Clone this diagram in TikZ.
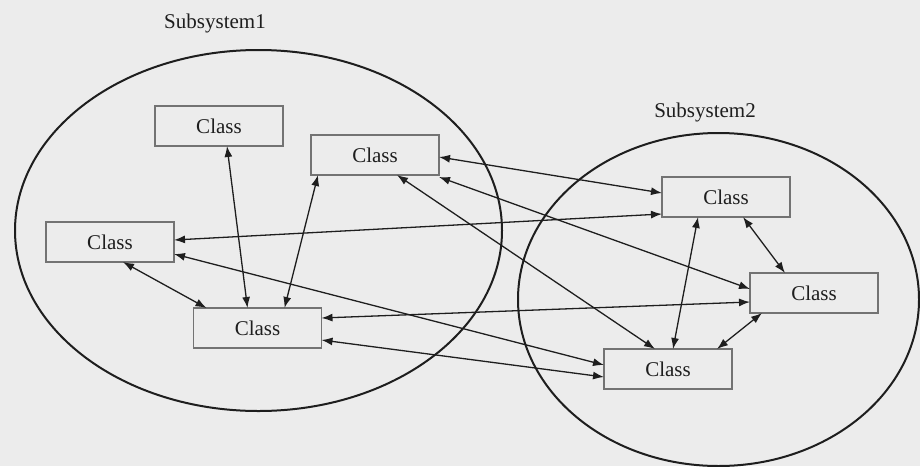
\documentclass[tikz,border=0pt]{standalone}
\usepackage{fontspec}
\setmainfont{Liberation Serif}
\usepackage{tikz}
\usetikzlibrary{calc}
\usetikzlibrary{arrows.meta}
\definecolor{pagebg}{RGB}{236,236,236}
\definecolor{inkdark}{RGB}{30,30,30}
\definecolor{boxline}{RGB}{115,115,115}
\tikzset{
    classbox/.style={draw=boxline,line width=1.1pt,fill=pagebg,minimum width=128pt,minimum height=40pt,inner sep=0pt,outer sep=0pt,text=inkdark,font=\fontsize{21}{24}\selectfont},
    subsys/.style={draw=inkdark,line width=2pt},
    conn/.style={draw=inkdark,line width=1.3pt,{Latex[length=11pt,width=8pt]}-{Latex[length=11pt,width=8pt]}}
}

\begin{document}
\begin{tikzpicture}[x=1pt,y=-1pt]
\useasboundingbox[fill=pagebg] (0,0) rectangle (920,466);
% the two subsystems
\draw[subsys] (258.5,230.5) ellipse [x radius=243.5pt, y radius=180.5pt];
\draw[subsys] (718.5,299.5) ellipse [x radius=200.5pt, y radius=166.5pt];
\node[text=inkdark,font=\fontsize{21}{24}\selectfont] (subone) at (215,23) {Subsystem1};
\node[text=inkdark,font=\fontsize{21}{24}\selectfont] (subtwo) at (705,112) {Subsystem2};
% classes
\foreach \x/\y/\p in {219/126/ca, 375/155/cb, 110/242/cc, 257.5/328/cd, 726/197/ce, 814/293/cf, 668/369/cg}{
    \node[classbox] (\p) at (\x,\y) {Class};
}
% associations
\foreach \a/\da/\b/\db in {ca.south/{8,0}/cd.north/{-10,0}, cb.south/{-57,0}/cd.north/{27,0}, cc.south/{13,0}/cd.north/{-51,0}, cb.east/{0,2}/ce.west/{0,-4}, cb.south east/{0,2}/cf.west/{0,-4}, cc.east/{0,-2}/ce.west/{0,17}, cc.east/{0,12}/cg.west/{0,-4}, cd.east/{0,-10}/cf.west/{0,9}, cd.east/{0,12}/cg.west/{0,8}, cb.south/{22,0}/cg.north/{-13,0}, ce.south/{-28,0}/cg.north/{5,0}, ce.south/{17,0}/cf.north/{-29,0}, cf.south/{-52,0}/cg.north/{49,0}}{
    \draw[conn] ($(\a)+(\da)$) -- ($(\b)+(\db)$);
}
\end{tikzpicture}
\end{document}
